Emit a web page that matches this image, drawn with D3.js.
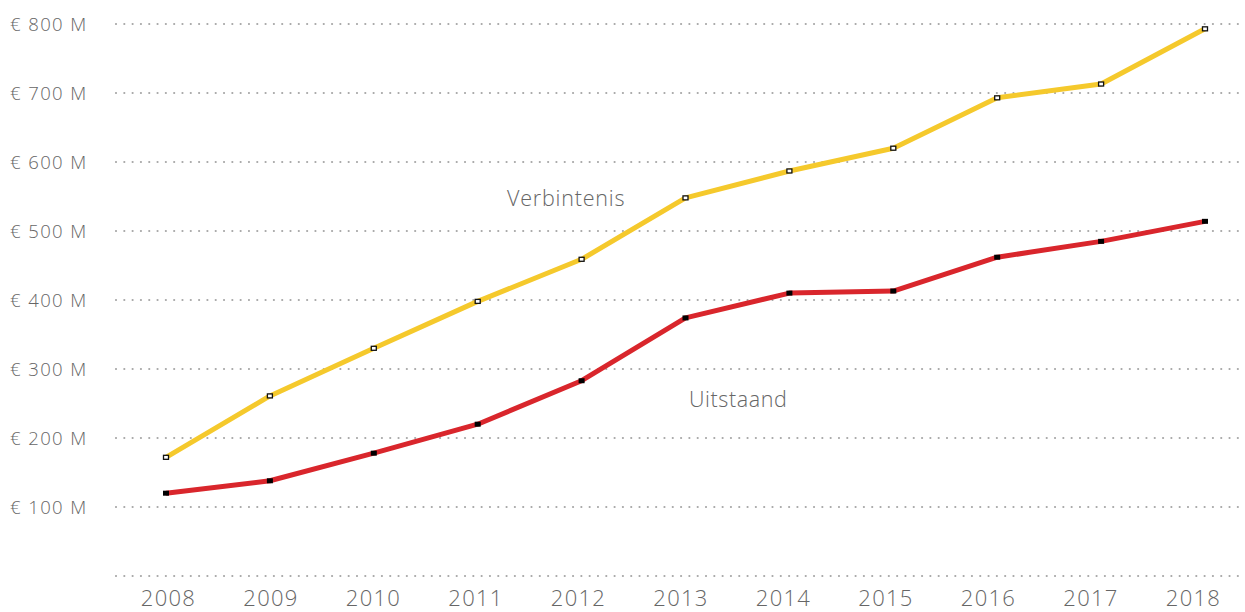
<!DOCTYPE html>
<html><head><meta charset="utf-8">
<script src="https://cdn.jsdelivr.net/npm/d3@7"></script>
<style>body{margin:0;background:#fff}svg{display:block}</style>
</head><body>
<svg id="c" width="1245" height="612"></svg>
<script>
const years = ["2008","2009","2010","2011","2012","2013","2014","2015","2016","2017","2018"];
const verbintenis = [172, 261, 330, 398, 459, 548, 587, 620, 693, 713, 793];
const uitstaand = [120, 138, 178, 220, 283, 374, 410, 413, 462, 485, 514];
const yTicks = [0, 100, 200, 300, 400, 500, 600, 700, 800];
const yTickLabels = ["", "€ 100 M", "€ 200 M", "€ 300 M", "€ 400 M", "€ 500 M", "€ 600 M", "€ 700 M", "€ 800 M"];

const svg = d3.select("#c");
const y = d3.scaleLinear().domain([0, 800]).range([576, 24]);
const x = d3.scalePoint().domain(years).range([166, 1205]);
const xLab = d3.scalePoint().domain(years).range([168.5, 1193.5]);
const font = "'Open Sans', sans-serif";
const grey = "#666";

// gridlines
svg.append("g").selectAll("line").data(yTicks).join("line")
  .attr("x1", 116).attr("x2", 1245)
  .attr("y1", d => y(d)).attr("y2", d => y(d))
  .attr("stroke", "#a6a6a6").attr("stroke-width", 2.2)
  .attr("stroke-dasharray", "0.01 8.3").attr("stroke-linecap", "round");

// y labels
svg.append("g").selectAll("text").data(yTicks).join("text")
  .attr("x", 10).attr("y", d => y(d) + 6.5)
  .attr("font-family", font).attr("font-size", 18.5).attr("font-weight", 300)
  .attr("letter-spacing", 1.4).attr("fill", grey)
  .text((d, i) => yTickLabels[i]);

// x labels
svg.append("g").selectAll("text").data(years).join("text")
  .attr("x", d => xLab(d)).attr("y", 606)
  .attr("text-anchor", "middle")
  .attr("font-family", font).attr("font-size", 22).attr("font-weight", 300)
  .attr("letter-spacing", 1.3).attr("fill", grey)
  .text(d => d);

const line = d3.line().x((d, i) => x(years[i])).y(d => y(d));

svg.append("path").datum(verbintenis).attr("d", line)
  .attr("fill", "none").attr("stroke", "#f5c92c").attr("stroke-width", 5).attr("stroke-linejoin", "round");
svg.append("path").datum(uitstaand).attr("d", line)
  .attr("fill", "none").attr("stroke", "#d9262c").attr("stroke-width", 5).attr("stroke-linejoin", "round");

// markers
svg.append("g").selectAll("rect").data(verbintenis).join("rect")
  .attr("x", (d, i) => x(years[i]) - 2.5).attr("y", d => y(d) - 2)
  .attr("width", 5).attr("height", 4)
  .attr("fill", "#fff").attr("stroke", "#111").attr("stroke-width", 1.3);
svg.append("g").selectAll("rect").data(uitstaand).join("rect")
  .attr("x", (d, i) => x(years[i]) - 3).attr("y", d => y(d) - 2.5)
  .attr("width", 6).attr("height", 5).attr("fill", "#000");

// series labels
svg.append("text").attr("x", 507).attr("y", 206)
  .attr("font-family", font).attr("font-size", 21.5).attr("font-weight", 300)
  .attr("letter-spacing", 0.8).attr("fill", grey).text("Verbintenis");
svg.append("text").attr("x", 689).attr("y", 407)
  .attr("font-family", font).attr("font-size", 21.5).attr("font-weight", 300)
  .attr("letter-spacing", 0.6).attr("fill", grey).text("Uitstaand");
</script>
</body></html>
